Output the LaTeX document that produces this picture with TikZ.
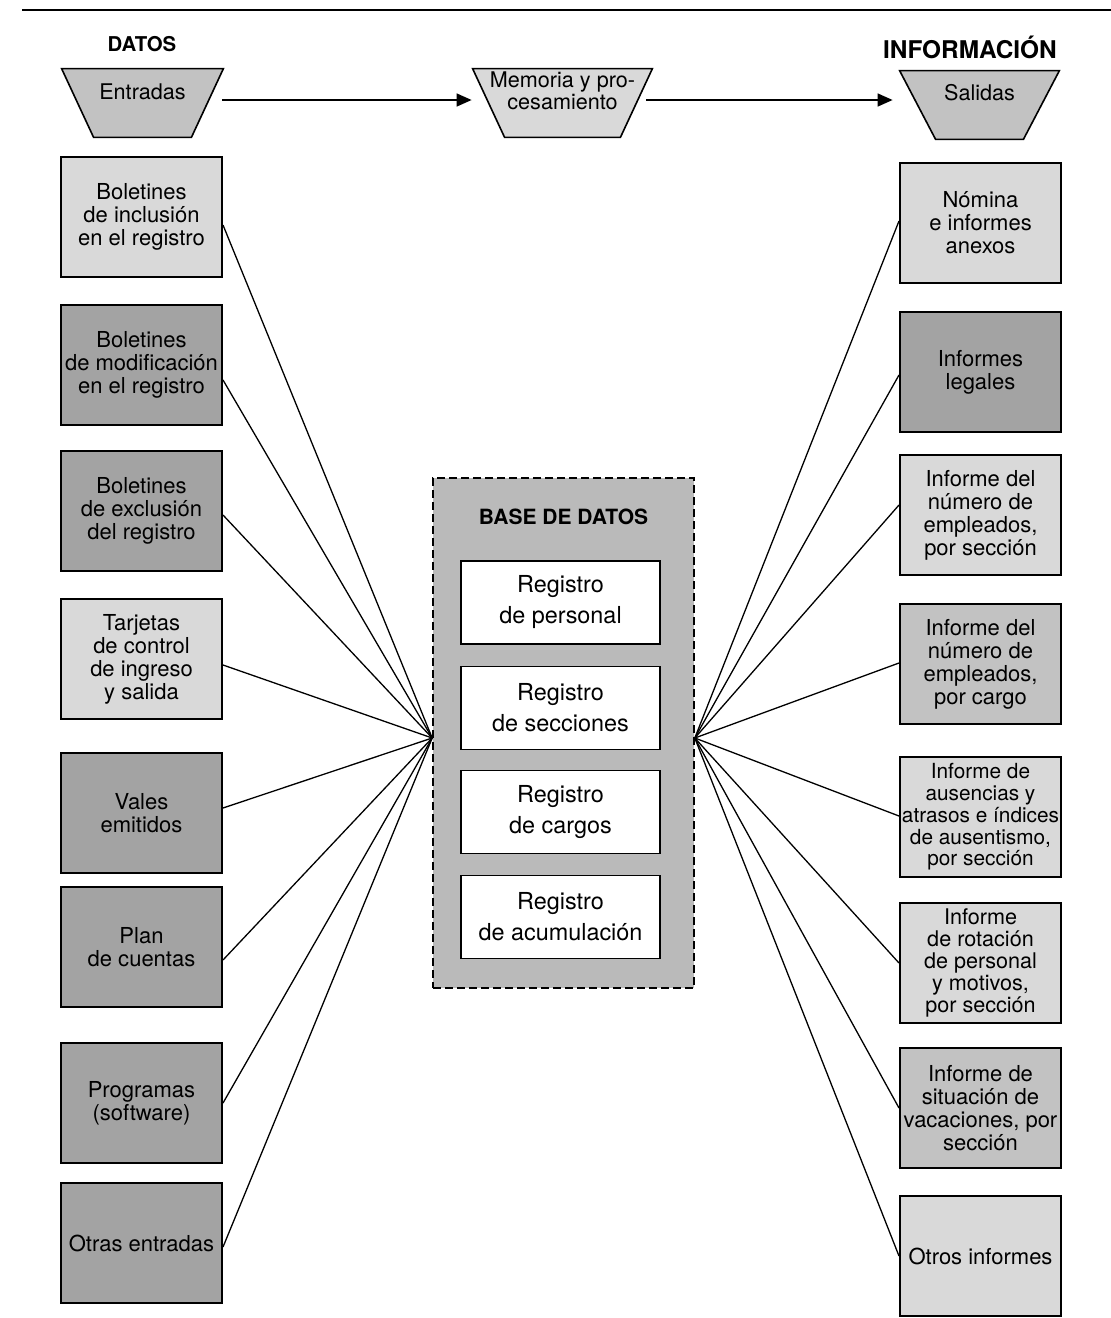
\documentclass[tikz,border=0pt]{standalone}
\usepackage{fontspec}
\setmainfont{TeX Gyre Heros}
\usetikzlibrary{arrows.meta,calc}
\definecolor{lightfill}{gray}{0.85}
\definecolor{midfill}{gray}{0.76}
\definecolor{darkfill}{gray}{0.64}
\definecolor{basefill}{gray}{0.73}
\begin{document}
\begin{tikzpicture}[x=0.5pt,y=-0.5pt,
  ebox/.style={draw=black, line width=1pt, minimum width=80.5pt, minimum height=60pt,
    inner sep=0pt, align=center, font=\fontsize{11}{11.5}\selectfont},
  reg/.style={draw=black, fill=white, line width=0.8pt, minimum width=99.5pt,
    minimum height=41.5pt, inner sep=0pt, align=center, font=\fontsize{11.7}{15.5}\selectfont},
  trapbox/.style={minimum height=34pt, inner sep=0pt},
  trapfill/.style={draw=black, line width=0.8pt},
  traptext/.style={inner sep=0pt, align=center, font=\fontsize{10.8}{9.8}\selectfont},
  conn/.style={line width=0.65pt},
  flow/.style={line width=0.7pt, -{Triangle[length=7.5pt,width=6.5pt]}},
  head/.style={inner sep=0pt, font=\bfseries\fontsize{10.2}{12}\selectfont}
]
\useasboundingbox (0,0) rectangle (1111,1318);
% top rule
\draw[line width=1.3pt] (22,10) -- (1111,10);

% headings
\node[head] (hdatos) at (142,44) {DATOS};
\node[head, font=\bfseries\fontsize{12.2}{14}\selectfont] (hinfo) at (970,47) {INFORMACIÓN};

% trapezoids
\node[trapbox, minimum width=80.5pt] (entr) at (142.5,103) {};
\path[trapfill, fill=midfill] (entr.north west) -- (entr.north east) -- ([xshift=-16pt]entr.south east) -- ([xshift=16pt]entr.south west) -- cycle;
\node[traptext] (entrT) at (142.5,92) {Entradas};

\node[trapbox, minimum width=89.5pt] (mem) at (562.5,103) {};
\path[trapfill, fill=lightfill] (mem.north west) -- (mem.north east) -- ([xshift=-16pt]mem.south east) -- ([xshift=16pt]mem.south west) -- cycle;
\node[traptext] (memT) at (562.5,91) {Memoria y pro-\\cesamiento};

\node[trapbox, minimum width=79.5pt] (sal) at (979.5,105) {};
\path[trapfill, fill=midfill] (sal.north west) -- (sal.north east) -- ([xshift=-18pt]sal.south east) -- ([xshift=18pt]sal.south west) -- cycle;
\node[traptext] (salT) at (979.5,93) {Salidas};

\draw[flow] ([xshift=-0.5pt,yshift=1.5pt]entr.east) -- ([xshift=-0.5pt,yshift=1.5pt]mem.west);
\draw[flow] ([xshift=-3pt,yshift=1.5pt]mem.east) -- ([xshift=-3.5pt,yshift=2.5pt]sal.west);

% left column
\node[ebox, fill=lightfill] (l1) at (141.5,217) {Boletines\\de inclusión\\en el registro};
\node[ebox, fill=darkfill]  (l2) at (141.5,365) {Boletines\\de modificación\\en el registro};
\node[ebox, fill=darkfill]  (l3) at (141.5,511) {Boletines\\de exclusión\\del registro};
\node[ebox, fill=lightfill] (l4) at (141.5,659) {Tarjetas\\de control\\de ingreso\\y salida};
\node[ebox, fill=darkfill]  (l5) at (141.5,813) {Vales\\emitidos};
\node[ebox, fill=darkfill]  (l6) at (141.5,947) {Plan\\de cuentas};
\node[ebox, fill=darkfill]  (l7) at (141.5,1103) {Programas\\(software)};
\node[ebox, fill=darkfill]  (l8) at (141.5,1243) {Otras entradas};

% right column
\node[ebox, fill=lightfill] (r1) at (980.5,223) {Nómina\\e informes\\anexos};
\node[ebox, fill=darkfill]  (r2) at (980.5,372) {Informes\\legales};
\node[ebox, fill=lightfill] (r3) at (980.5,515) {Informe del\\número de\\empleados,\\por sección};
\node[ebox, fill=midfill]   (r4) at (980.5,664) {Informe del\\número de\\empleados,\\por cargo};
\node[ebox, fill=lightfill, font=\fontsize{10.4}{10.9}\selectfont] (r5) at (980.5,817) {Informe de\\ausencias y\\atrasos e índices\\de ausentismo,\\por sección};
\node[ebox, fill=lightfill, font=\fontsize{10.8}{10.9}\selectfont] (r6) at (980.5,963) {Informe\\de rotación\\de personal\\y motivos,\\por sección};
\node[ebox, fill=midfill]   (r7) at (980.5,1108) {Informe de\\situación de\\vacaciones, por\\sección};
\node[ebox, fill=lightfill] (r8) at (980.5,1256) {Otros informes};

% database
\node[draw=black, fill=basefill, line width=0.8pt, dash pattern=on 4pt off 2pt,
  minimum width=130.5pt, minimum height=255pt, inner sep=0pt] (db) at (563.5,733) {};
\node[inner sep=0pt, font=\bfseries\fontsize{10.5}{12}\selectfont] (dbT) at (563.5,517) {BASE DE DATOS};
\node[reg] (g1) at (560.5,602.5) {Registro\\de personal};
\node[reg] (g2) at (560.5,708) {Registro\\de secciones};
\node[reg] (g3) at (560.5,812) {Registro\\de cargos};
\node[reg] (g4) at (560.5,917) {Registro\\de acumulación};

\coordinate (fanL) at ([yshift=-2.5pt]db.west);
\coordinate (fanR) at ([yshift=-2.5pt]db.east);

\foreach \n/\s in {l1/-4pt, l2/-7.5pt, l3/-2pt, l4/-3pt, l5/2.5pt, l6/-6.5pt, l7/0pt, l8/-2pt}
  \draw[conn] ([yshift=\s]\n.east) -- (fanL);
\foreach \n/\s in {r1/1pt, r2/-1.5pt, r3/5pt, r4/0.5pt, r5/0.5pt, r6/0pt, r7/0pt, r8/0pt}
  \draw[conn] ([yshift=\s]\n.west) -- (fanR);
\end{tikzpicture}
\end{document}
